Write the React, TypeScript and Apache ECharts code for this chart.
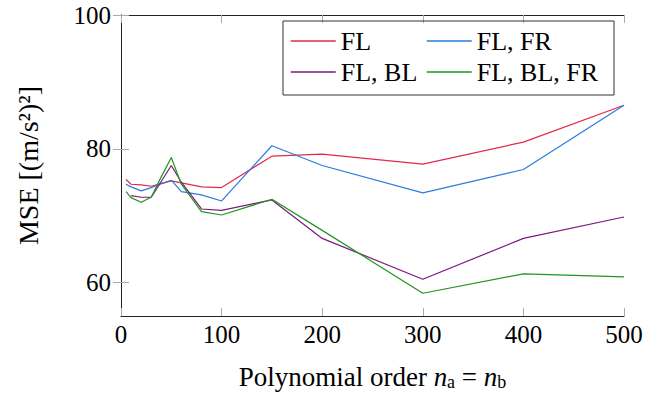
import React, { useEffect, useRef } from "react";
import * as echarts from "echarts";

const orders = [5, 10, 20, 30, 40, 50, 60, 80, 100, 150, 200, 300, 400, 500];
const mseFL = [75.4, 74.7, 74.6, 74.4, 74.8, 75.2, 74.9, 74.3, 74.2, 78.9, 79.2, 77.7, 81.0, 86.5];
const mseFLFR = [74.7, 74.3, 73.7, 74.2, 74.8, 75.3, 73.6, 73.1, 72.2, 80.45, 77.5, 73.4, 76.9, 86.5];
const mseFLBL = [null, 73.0, 72.75, 72.75, 75.1, 77.5, 75.0, 71.0, 70.8, 72.35, 66.6, 60.5, 66.6, 69.8];
const mseFLBLFR = [73.6, 72.7, 72.0, 72.75, 75.8, 78.7, 74.7, 70.6, 70.1, 72.45, 67.8, 58.4, 61.3, 60.85];

const seriesNames = ["FL", "FL, FR", "FL, BL", "FL, BL, FR"];
const seriesColors = ["#e3284f", "#2a7be0", "#7a1a7a", "#1f961f"];
const xTicks = [0, 100, 200, 300, 400, 500];
const yTicks = [60, 80, 100];

const FONT = "'Liberation Serif', 'DejaVu Serif', serif";

export default function App() {
  const ref = useRef<HTMLDivElement>(null);
  useEffect(() => {
    if (!ref.current) return;
    const chart = echarts.init(ref.current, null, { renderer: "svg" });
    const allData = [mseFL, mseFLFR, mseFLBL, mseFLBLFR];
    const series = allData.map((vals, i) => ({
      name: seriesNames[i],
      type: "line",
      symbol: "none",
      data: orders.map((x, j) => [x, vals[j]]).filter((p) => p[1] !== null),
      lineStyle: { width: 1.2, color: seriesColors[i] },
      itemStyle: { color: seriesColors[i] },
    }));
    const legendTextStyle = { fontFamily: FONT, fontSize: 26, color: "#000" };
    const legendBase = {
      orient: "vertical",
      itemWidth: 45,
      itemHeight: 14,
      itemGap: 5,
      itemStyle: { opacity: 0 },
      lineStyle: { width: 1.5 },
      textStyle: legendTextStyle,
      top: 23,
    };
    chart.setOption({
      animation: false,
      grid: { left: 121, top: 15, right: 35, bottom: 77, containLabel: false, outerBoundsMode: "none" },
      legend: [
        { ...legendBase, data: [seriesNames[0], seriesNames[2]], left: 285 },
        { ...legendBase, data: [seriesNames[1], seriesNames[3]], left: 421 },
      ],
      graphic: [
        {
          type: "rect",
          shape: { x: 283, y: 21, width: 331, height: 74 },
          style: { fill: "none", stroke: "#333", lineWidth: 1 },
          z: 100,
        },
      ],
      xAxis: [
        {
          type: "value",
          min: 0,
          max: 500,
          interval: 100,
          axisLine: { lineStyle: { color: "#222", width: 1 } },
          axisTick: { inside: true, length: 8, lineStyle: { color: "#aaa" } },
          splitLine: { show: false },
          axisLabel: {
            fontFamily: FONT,
            fontSize: 25,
            color: "#000",
            margin: 6,
            customValues: xTicks,
          },
          name: "{r|Polynomial order }{i|n}{s|a}{r| = }{i|n}{s|b}",
          nameLocation: "middle",
          nameGap: 47,
          nameTextStyle: {
            fontFamily: FONT,
            color: "#000",
            rich: {
              r: { fontFamily: FONT, fontSize: 27, lineHeight: 28, color: "#000" },
              i: { fontFamily: FONT, fontSize: 27, lineHeight: 28, fontStyle: "italic", color: "#000" },
              s: { fontFamily: FONT, fontSize: 18, lineHeight: 12, verticalAlign: "bottom", color: "#000" },
            },
          },
        },
        {
          type: "value",
          position: "top",
          min: 0,
          max: 500,
          interval: 100,
          axisLine: { lineStyle: { color: "#222", width: 1 } },
          axisTick: { inside: true, length: 8, lineStyle: { color: "#aaa" } },
          splitLine: { show: false },
          axisLabel: { show: false },
        },
      ],
      yAxis: [
        {
          type: "value",
          min: 55,
          max: 100,
          axisLine: { show: true, lineStyle: { color: "#222", width: 1 } },
          axisTick: { inside: true, length: 8, lineStyle: { color: "#aaa" }, customValues: yTicks },
          splitLine: { show: false },
          axisLabel: {
            fontFamily: FONT,
            fontSize: 25,
            color: "#000",
            margin: 10,
            customValues: yTicks,
          },
          name: "MSE [(m/s²)²]",
          nameLocation: "middle",
          nameGap: 79,
          nameRotate: 90,
          nameTextStyle: { fontFamily: FONT, fontSize: 28, color: "#000" },
        },
        {
          type: "value",
          position: "right",
          min: 55,
          max: 100,
          axisLine: { show: true, lineStyle: { color: "#222", width: 1 } },
          axisTick: { inside: true, length: 8, lineStyle: { color: "#aaa" }, customValues: yTicks },
          splitLine: { show: false },
          axisLabel: { show: false },
        },
      ],
      series,
    });
    return () => chart.dispose();
  }, []);
  return <div ref={ref} style={{ width: 659, height: 393, position: "absolute", left: 0, top: 0 }} />;
}
